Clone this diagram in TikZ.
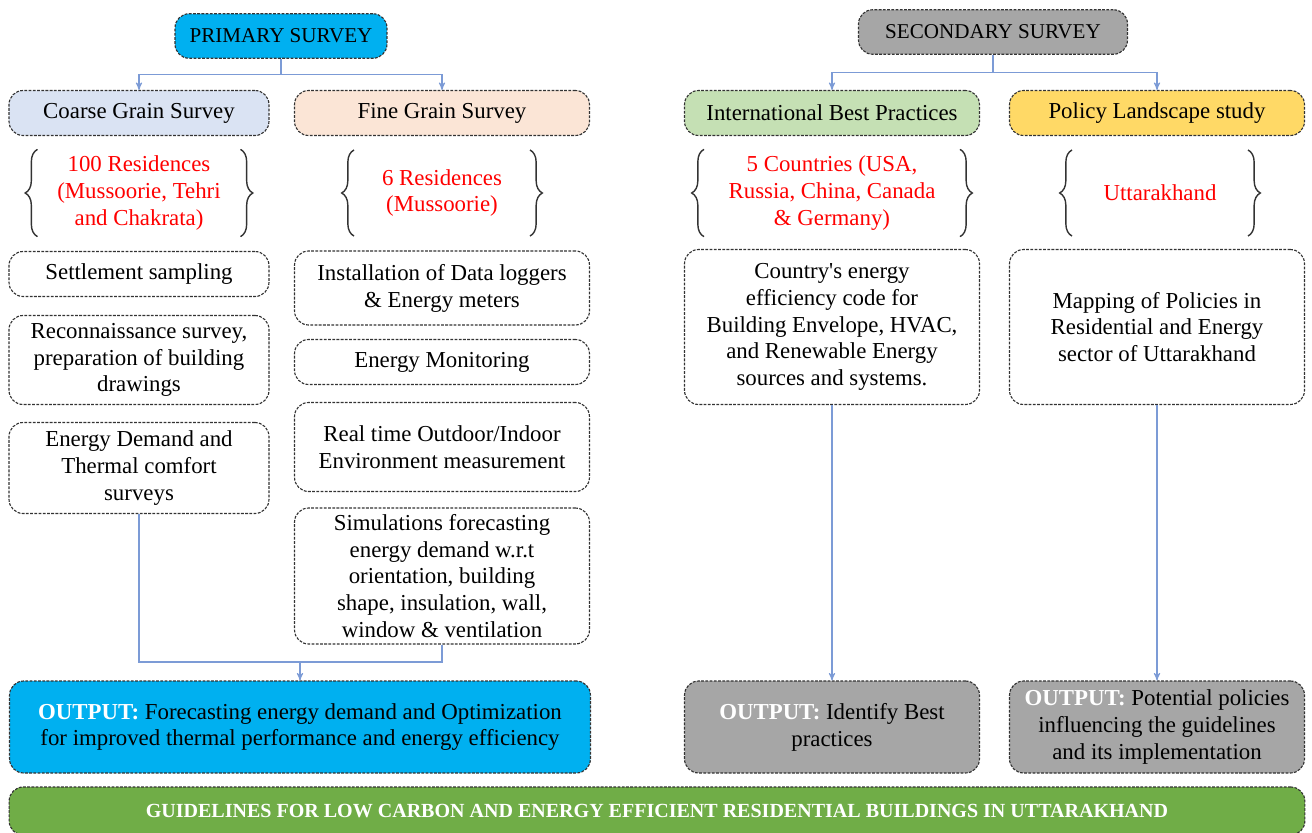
\documentclass[tikz,border=0pt]{standalone}
\usepackage{fontspec}
\setmainfont{Liberation Serif}
\usepackage{tikz}
\usetikzlibrary{arrows,positioning,decorations.pathreplacing}
\definecolor{primcyan}{HTML}{00B0F0}
\definecolor{secgray}{HTML}{A6A6A6}
\definecolor{coarseblue}{HTML}{DAE3F3}
\definecolor{finepeach}{HTML}{FBE5D6}
\definecolor{intlgreen}{HTML}{C5E0B4}
\definecolor{policyyellow}{HTML}{FFD966}
\definecolor{guidegreen}{HTML}{70AD47}
\definecolor{wireblue}{HTML}{7C9BD6}

\begin{document}
\begin{tikzpicture}[x=0.02cm,y=-0.02cm,>=stealth',semithick]
  \tikzstyle{every node}=[font=\fontsize{13}{15.3}\selectfont]
  \tikzstyle{box}=[draw=black!80, line width=0.65pt, dash pattern=on 1.6pt off 0.8pt, rounded corners=8pt, align=center, inner sep=2pt]
  \tikzstyle{head}=[box, font=\fontsize{12}{14}\selectfont, minimum height=0.89cm]
  \tikzstyle{wire}=[draw=wireblue, semithick]
  \tikzstyle{curly}=[decorate, decoration={brace, amplitude=7pt}, draw=black!80, line width=0.8pt]
  \tikzstyle{list}=[align=center, text=red, minimum height=1.7cm]
  \clip (0,0) rectangle (1312,832);

  % survey heads
  \node[head, fill=primcyan, minimum width=4.24cm] (primary) at (281,36) {PRIMARY SURVEY};
  \node[head, fill=secgray, minimum width=5.38cm] (secondary) at (993,32) {SECONDARY SURVEY};

  \node[box, fill=coarseblue, minimum width=5.2cm, minimum height=0.9cm] (coarse) at (139,113) {Coarse Grain Survey};
  \node[box, fill=finepeach, minimum width=5.9cm, minimum height=0.9cm] (fine) at (442,113) {Fine Grain Survey};
  \node[box, fill=intlgreen, minimum width=5.9cm, minimum height=0.9cm] (intl) at (832,113) {International Best Practices};
  \node[box, fill=policyyellow, minimum width=5.9cm, minimum height=0.9cm] (policy) at (1157,113) {Policy Landscape study};

  % sample sets
  \node[list, minimum width=4.04cm] (res1) at (139,193) {100 Residences\\(Mussoorie, Tehri\\and Chakrata)};
  \node[list, minimum width=3.5cm] (res2) at (442,193) {6 Residences\\(Mussoorie)};
  \node[list, minimum width=5.1cm] (res3) at (832,193) {5 Countries (USA,\\Russia, China, Canada\\\& Germany)};
  \node[list, minimum width=3.5cm] (res4) at (1160,193) {Uttarakhand};
  \foreach \r in {res1,res2,res3,res4}{
    \draw[curly] (\r.south west) -- (\r.north west);
    \draw[curly] (\r.north east) -- (\r.south east);
  }

  % coarse grain steps
  \node[box, minimum width=5.2cm, minimum height=0.9cm] (settle) at (139,274) {Settlement sampling};
  \node[box, minimum width=5.2cm, minimum height=1.78cm] (recon) at (139,360) {Reconnaissance survey,\\preparation of building\\drawings};
  \node[box, minimum width=5.2cm, minimum height=1.82cm] (demand) at (139,468) {Energy Demand and\\Thermal comfort\\surveys};

  % fine grain steps
  \node[box, minimum width=5.9cm, minimum height=1.48cm] (logger) at (442,288) {Installation of Data loggers\\\& Energy meters};
  \node[box, minimum width=5.9cm, minimum height=0.9cm] (monitor) at (442,362) {Energy Monitoring};
  \node[box, minimum width=5.9cm, minimum height=1.78cm] (envir) at (442,447) {Real time Outdoor/Indoor\\Environment measurement};
  \node[box, minimum width=5.9cm, minimum height=2.72cm] (sim) at (442,576) {Simulations forecasting\\energy demand w.r.t\\orientation, building\\shape, insulation, wall,\\window \& ventilation};

  % secondary steps
  \node[box, minimum width=5.9cm, minimum height=3.1cm] (code) at (832,327) {Country\textquotesingle s energy\\efficiency code for\\Building Envelope, HVAC,\\and Renewable Energy\\sources and systems.};
  \node[box, minimum width=5.9cm, minimum height=3.1cm] (map) at (1157,327) {Mapping of Policies in\\Residential and Energy\\sector of Uttarakhand};

  % outputs
  \node[box, fill=primcyan, minimum width=11.62cm, minimum height=1.84cm] (out1) at (300,727) {\textcolor{white}{\textbf{OUTPUT:}} Forecasting energy demand and Optimization\\for improved thermal performance and energy efficiency};
  \node[box, fill=secgray, minimum width=5.9cm, minimum height=1.84cm] (out2) at (832,727) {\textcolor{white}{\textbf{OUTPUT:}} Identify Best\\practices};
  \node[box, fill=secgray, minimum width=5.9cm, minimum height=1.84cm] (out3) at (1157,727) {\textcolor{white}{\textbf{OUTPUT:}} Potential policies\\influencing the guidelines\\and its implementation};

  \node[box, fill=guidegreen, text=white, font=\fontsize{11.4}{14}\selectfont\bfseries, minimum width=25.92cm, minimum height=0.96cm] (guide) at (657,811) {GUIDELINES FOR LOW CARBON AND ENERGY EFFICIENT RESIDENTIAL BUILDINGS IN UTTARAKHAND};

  % connectors
  \draw[wire,->] (primary.south) -- ++(0,16) -| (coarse.north);
  \draw[wire,->] (primary.south) -- ++(0,16) -| (fine.north);
  \draw[wire,->] (secondary.south) -- ++(0,18) -| (intl.north);
  \draw[wire,->] (secondary.south) -- ++(0,18) -| (policy.north);

  \coordinate (merge) at (300,662);
  \draw[wire] (demand.south) |- (merge) -| (sim.south);
  \draw[wire,->] (merge) -- (merge |- out1.north);
  \draw[wire,->] (code.south) -- (code.south |- out2.north);
  \draw[wire,->] (map.south) -- (map.south |- out3.north);
\end{tikzpicture}
\end{document}
